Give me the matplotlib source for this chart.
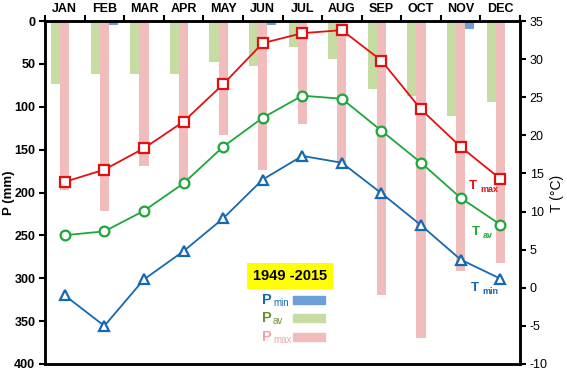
import matplotlib
matplotlib.use("Agg")
import matplotlib.pyplot as plt
import numpy as np

plt.rcParams["axes.unicode_minus"] = False
plt.rcParams["font.family"] = ["Liberation Sans", "DejaVu Sans"]

months = ["JAN", "FEB", "MAR", "APR", "MAY", "JUN", "JUL", "AUG", "SEP", "OCT", "NOV", "DEC"]
p_min = [0, 5, 1.5, 0, 0, 5, 0, 0, 0, 0, 9, 0]
p_av = [74, 62, 62, 62, 48, 52, 30, 44, 79, 87, 111, 95]
p_max = [197, 221, 169, 188, 133, 174, 120, 167, 320, 370, 291, 282]
t_max = [13.9, 15.5, 18.3, 21.8, 26.7, 32.1, 33.4, 33.8, 29.8, 23.4, 18.5, 14.3]
t_av = [6.9, 7.4, 10.1, 13.7, 18.5, 22.3, 25.2, 24.8, 20.6, 16.4, 11.8, 8.3]
t_min = [-1.0, -5.0, 1.1, 4.8, 9.1, 14.2, 17.3, 16.4, 12.4, 8.2, 3.7, 1.2]
period = "1949 -2015"

c_pmin = "#6a9fd8"
c_pav = "#c6dca2"
c_pmax = "#f1bcbc"
c_tmax = "#e3100f"
c_tav = "#1ea63c"
c_tmin = "#1668b0"

fig = plt.figure(figsize=(5.67, 3.71), dpi=100)
ax = fig.add_axes([45/567, 1-364/371, 475/567, 343/371])
x = np.arange(12) + 0.5
w = 0.23
ax.bar(x - w, p_av, width=w, color=c_pav, zorder=1)
ax.bar(x, p_max, width=w, color=c_pmax, zorder=1)
ax.bar(x + w, p_min, width=w, color=c_pmin, zorder=1)
ax.set_xlim(0, 12)
ax.set_ylim(400, 0)
ax.set_yticks(np.arange(0, 401, 50))
for lab in ax.get_yticklabels():
    lab.set_fontweight("bold")
ax.tick_params(axis="y", labelsize=9, width=1.5, length=4, direction="out", pad=3)
fig.text(9/567, 1-193/371, "P (mm)", fontsize=9.5, fontweight="bold", rotation=90,
         ha="center", va="center")

ax.xaxis.tick_top()
ax.set_xticks(np.arange(0, 13))
ax.set_xticklabels([])
ax.set_xticks(x, minor=True)
ax.set_xticklabels(months, minor=True, fontsize=9, fontweight="bold")
ax.tick_params(axis="x", which="major", length=4, width=1.5, direction="out")
ax.tick_params(axis="x", which="minor", length=0, pad=4)
for s in ax.spines.values():
    s.set_linewidth(1.8)

ax2 = ax.twinx()
ax2.set_ylim(-10, 35)
ax2.set_yticks(np.arange(-10, 36, 5))
ax2.tick_params(axis="y", labelsize=9, width=1.5, length=4, pad=3)
fig.text(557/567, 1-193/371, "T (°C)", fontsize=10, rotation=90, ha="center", va="center")
for s in ax2.spines.values():
    s.set_linewidth(1.8)

mk = dict(markerfacecolor="white", markeredgewidth=1.6, linewidth=1.3)
ax2.plot(x, t_max, marker="s", markersize=7, color=c_tmax, **mk)
ax2.plot(x, t_av, marker="o", markersize=7, color=c_tav, **mk)
ax2.plot(x, t_min, marker="^", markersize=7.5, color=c_tmin, **mk)

# series labels
def series_label(xp, yp, main, sub, color):
    fig.text(xp/567, 1-yp/371, main, color=color, fontsize=9.5, fontweight="bold", va="center", ha="left")
    fig.text((xp+11)/567, 1-(yp+3)/371, sub, color=color, fontsize=6.5, fontweight="bold", va="center", ha="left")

series_label(469, 186, "T", "max", c_tmax)
series_label(472, 232, "T", "av", c_tav)
series_label(471, 288, "T", "min", c_tmin)

# legend block
fig.text(290/567, 1-276/371, period, fontsize=10.5, fontweight="bold", ha="center", va="center",
         bbox=dict(facecolor="#ffff00", edgecolor="none", pad=4))
leg_items = [("min", c_tmin, c_pmin, 300), ("av", "#6c8f2c", c_pav, 318), ("max", "#efa5a5", c_pmax, 337)]
for sub, tc, pc, yy in leg_items:
    fig.text(262/567, 1-yy/371, "P", color=tc, fontsize=10.5, fontweight="bold", va="center")
    fig.text(273/567, 1-(yy+3)/371, sub, color=tc, fontsize=7, va="center")
    fig.patches.append(matplotlib.patches.Rectangle((293/567, 1-(yy+4)/371), 32/567, 8/371,
                                                    transform=fig.transFigure, facecolor=pc,
                                                    edgecolor=pc, figure=fig))

fig.savefig("out.png", dpi=100)
